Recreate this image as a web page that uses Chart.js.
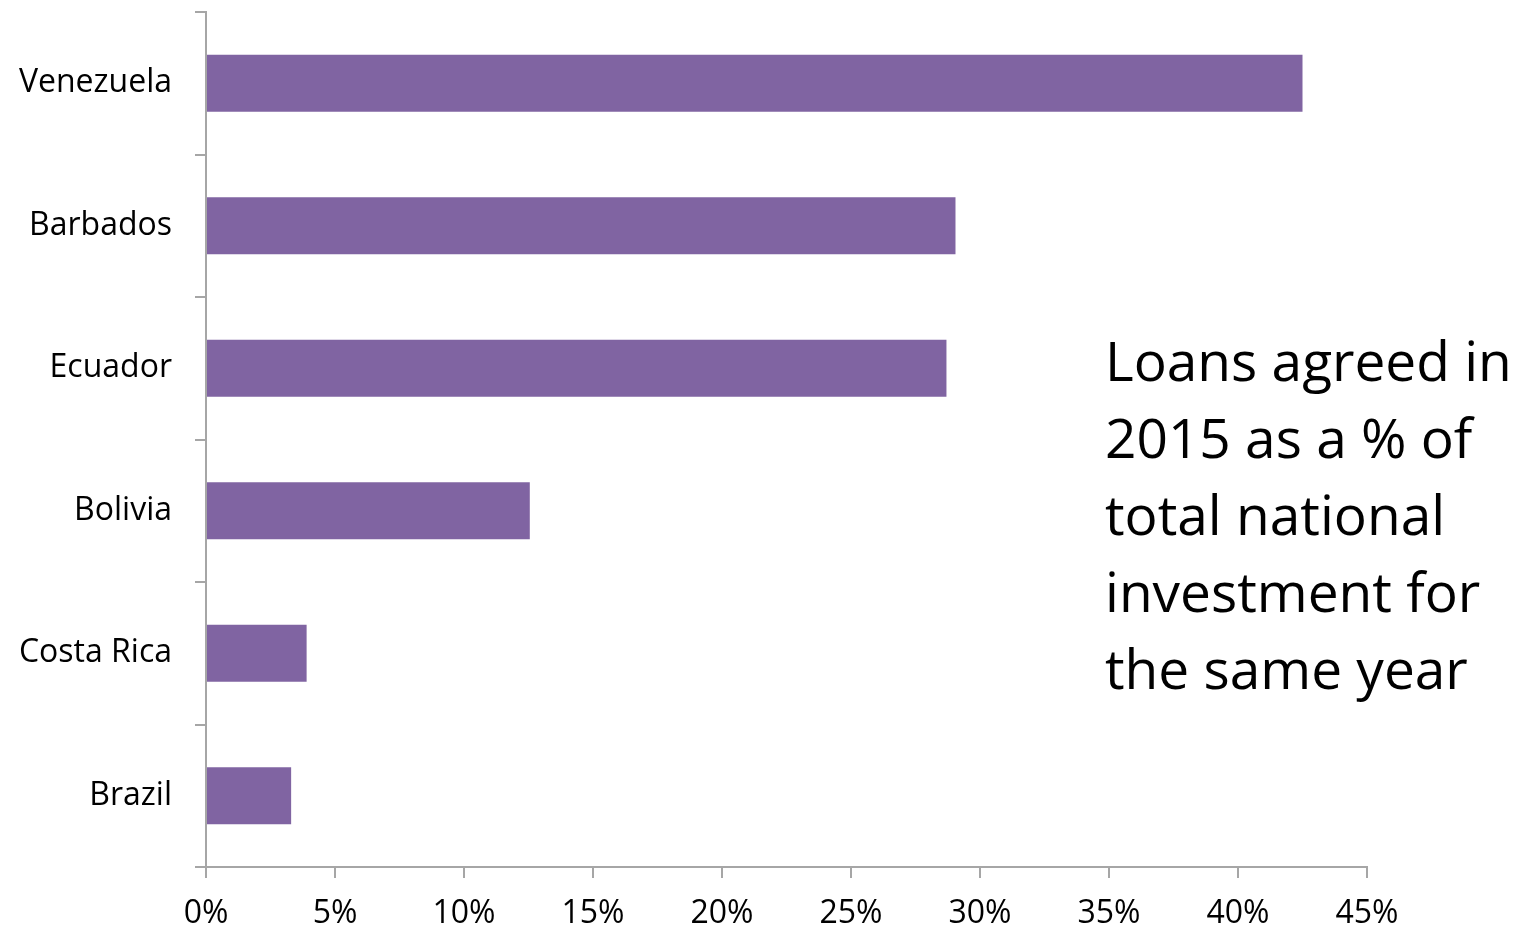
<!DOCTYPE html>
<html>
<head>
<meta charset="utf-8">
<script src="https://cdn.jsdelivr.net/npm/chart.js@4"></script>
<style>
  html, body { margin: 0; padding: 0; background: #fff; }
  #wrap { position: relative; width: 1517px; height: 933px; }
  #note {
    position: absolute; left: 1105px; top: 321px;
    font-family: "Open Sans", sans-serif; font-size: 55px; line-height: 77px;
    color: #000; white-space: nowrap;
  }
</style>
</head>
<body>
<div id="wrap">
  <canvas id="loanChart" width="1517" height="933"></canvas>
  <div id="note">Loans agreed in<br>2015 as a % of<br>total national<br>investment for<br>the same year</div>
</div>
<script>
// Loans agreed in 2015, share of national investment (%)
const countries = ['Venezuela', 'Barbados', 'Ecuador', 'Bolivia', 'Costa Rica', 'Brazil'];
const loanShare = [42.5, 29.05, 28.7, 12.55, 3.9, 3.3];
const tickStep = 5;
const axisMax = 45;

const axisGrey = '#a6a6a6';
const labelFont = { family: '"Open Sans", sans-serif', size: 32 };

new Chart(document.getElementById('loanChart'), {
  type: 'bar',
  data: {
    labels: countries,
    datasets: [{
      data: loanShare,
      backgroundColor: '#8064a2',
      categoryPercentage: 1,
      barPercentage: 0.4
    }]
  },
  options: {
    indexAxis: 'y',
    responsive: false,
    animation: false,
    layout: { padding: { top: 12, right: 150, left: 0, bottom: 0 } },
    plugins: { legend: { display: false }, tooltip: { enabled: false } },
    scales: {
      x: {
        min: 0, max: axisMax,
        ticks: {
          stepSize: tickStep, color: '#000', font: labelFont, padding: 17,
          callback: v => v + '%'
        },
        grid: { drawOnChartArea: false, drawTicks: true, tickLength: 11, color: axisGrey, lineWidth: 2 },
        border: { color: axisGrey, width: 2 },
        afterFit: s => { s.height = 66; s.paddingLeft = 0; s.paddingRight = 0; }
      },
      y: {
        ticks: { color: '#000', font: labelFont, padding: 23 },
        grid: { offset: true, drawOnChartArea: false, drawTicks: true, tickLength: 11, color: axisGrey, lineWidth: 2 },
        border: { color: axisGrey, width: 2 },
        afterFit: s => { s.width = 206; s.paddingTop = 0; s.paddingBottom = 0; }
      }
    }
  }
});
</script>
</body>
</html>
